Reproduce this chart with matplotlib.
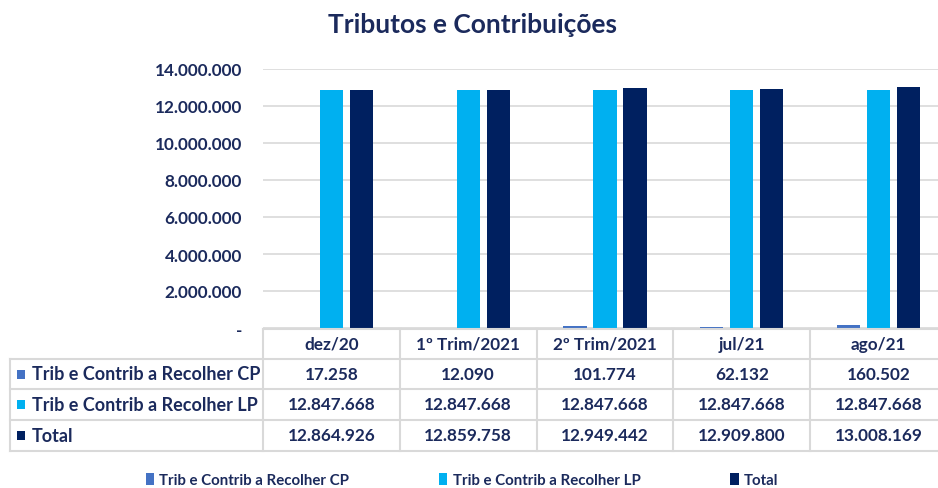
import matplotlib
matplotlib.use("Agg")
import matplotlib.pyplot as plt
import matplotlib.transforms as mtransforms
from matplotlib.lines import Line2D
from matplotlib.patches import Rectangle
import numpy as np

categories = ["dez/20", "1º Trim/2021", "2º Trim/2021", "jul/21", "ago/21"]
series_names = ["Trib e Contrib a Recolher CP", "Trib e Contrib a Recolher LP", "Total"]
cp = [17258, 12090, 101774, 62132, 160502]
lp = [12847668, 12847668, 12847668, 12847668, 12847668]
total = [12864926, 12859758, 12949442, 12909800, 13008169]
yticks = [0, 2000000, 4000000, 6000000, 8000000, 10000000, 12000000, 14000000]
title = "Tributos e Contribuições"

colors = ["#4472C4", "#00B0F0", "#002060"]
txt = "#1B2A5C"
grid_c = "#D9D9D9"
plt.rcParams["font.family"] = ["Lato", "DejaVu Sans"]
plt.rcParams["font.weight"] = "bold"

W, H = 938, 489
fig = plt.figure(figsize=(W / 100, H / 100), dpi=100)

def fx(p):
    return p / W

def fy(p):
    return 1 - p / H

ax_l, ax_r, ax_t, ax_b = 263, 947, 70, 329
ax = fig.add_axes([fx(ax_l), fy(ax_b), (ax_r - ax_l) / W, (ax_b - ax_t) / H])

def fmt(v):
    if v == 0:
        return "-"
    return f"{v:,.0f}".replace(",", ".")

x = np.arange(len(categories))
bw = 0.17
off = 0.219
series = [cp, lp, total]
bars = []
for i, (s, c) in enumerate(zip(series, colors)):
    b = ax.bar(x + (i - 1) * off, s, width=bw, color=c, label=series_names[i], zorder=3)
    bars.append(b)

ax.set_xlim(-0.5, len(categories) - 0.5)
ax.set_ylim(0, 14000000)
ax.set_yticks(yticks)
ax.set_yticklabels([fmt(v) for v in yticks], color=txt, fontsize=12.3, fontweight="bold")
ax.tick_params(axis="y", length=0, pad=15)
ax.set_xticks([])
for sp in ax.spines.values():
    sp.set_visible(False)
ax.grid(axis="y", color=grid_c, linewidth=1.2, zorder=0)
ax.set_facecolor("none")

fig.text(fx(472), fy(25), title, ha="center", va="center", fontsize=19,
         fontweight="bold", color=txt)

# data table
bt = mtransforms.blended_transform_factory(ax.transData, fig.transFigure)
row_lines = [330, 360, 390, 421, 452]
row_centers = [345, 375, 405.5, 436.5]
lw = 1.5
fig.add_artist(Line2D([fx(ax_l), fx(ax_r)], [fy(330), fy(330)], color=grid_c, lw=lw))
for yy in row_lines[1:]:
    fig.add_artist(Line2D([fx(10), fx(ax_r)], [fy(yy), fy(yy)], color=grid_c, lw=lw))
fig.add_artist(Line2D([fx(10), fx(10)], [fy(360), fy(452)], color=grid_c, lw=lw))
for k in range(len(categories) + 1):
    ax.add_artist(Line2D([k - 0.5, k - 0.5], [fy(330), fy(452)], color=grid_c, lw=lw,
                         transform=bt, clip_on=False))
for k, cat in enumerate(categories):
    ax.text(k, fy(row_centers[0]), cat, transform=bt, ha="center", va="center",
            fontsize=12.3, fontweight="bold", color=txt, clip_on=False)
for r, (name, s, c) in enumerate(zip(series_names, series, colors)):
    yc = row_centers[r + 1]
    fig.patches.append(Rectangle((fx(17), fy(yc + 4.5)), 8 / W, 9 / H, transform=fig.transFigure,
                                 facecolor=c, edgecolor="none"))
    fig.text(fx(32), fy(yc), name, ha="left", va="center", fontsize=13,
             fontweight="bold", color=txt)
    for k, v in enumerate(s):
        ax.text(k, fy(yc), fmt(v), transform=bt, ha="center", va="center",
                fontsize=12.3, fontweight="bold", color=txt, clip_on=False)

fig.legend(handles=bars, labels=series_names, loc="center", bbox_to_anchor=(fx(462), fy(481)),
           ncol=3, frameon=False, handlelength=0.55, handleheight=0.8,
           handletextpad=0.35, columnspacing=6.0, labelcolor=txt,
           prop={"weight": "bold", "size": 10.8})

fig.savefig("out.png", dpi=100)
